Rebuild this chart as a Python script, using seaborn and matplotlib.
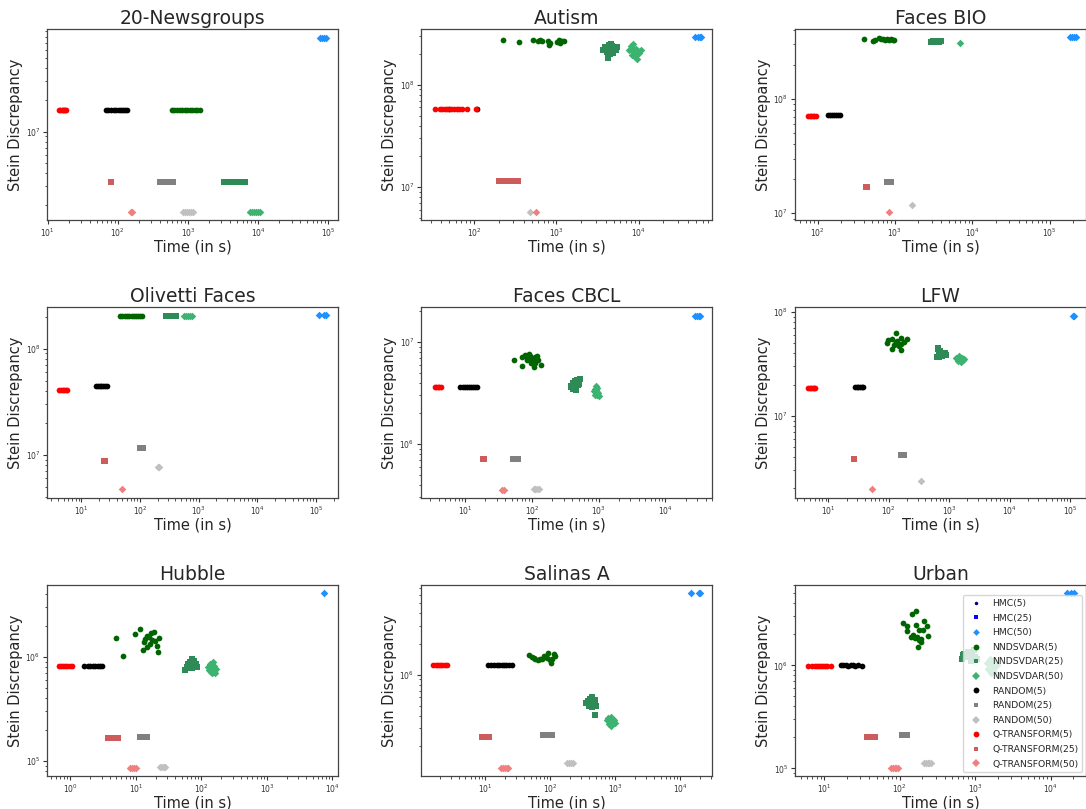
import matplotlib
matplotlib.use("Agg")
import matplotlib.pyplot as plt
from matplotlib.lines import Line2D
import seaborn as sns

# ---------------- series definitions ----------------
SERIES = ["HMC(5)", "HMC(25)", "HMC(50)",
          "NNDSVDAR(5)", "NNDSVDAR(25)", "NNDSVDAR(50)",
          "RANDOM(5)", "RANDOM(25)", "RANDOM(50)",
          "Q-TRANSFORM(5)", "Q-TRANSFORM(25)", "Q-TRANSFORM(50)"]
COLORS = ["navy", "blue", "dodgerblue",
          "darkgreen", "seagreen", "mediumseagreen",
          "black", "gray", "silver",
          "red", "indianred", "lightcoral"]
MARKERS = ["o", "s", "D"] * 4

TITLES = ["20-Newsgroups", "Autism", "Faces BIO",
          "Olivetti Faces", "Faces CBCL", "LFW",
          "Hubble", "Salinas A", "Urban"]

# ---------------- data: (times in s, stein discrepancy) ----------------
NEWSGROUPS = {
    "HMC(50)": ([76000, 82000, 88000, 94000], [7.8e7, 7.8e7, 7.8e7, 7.8e7]),
    "NNDSVDAR(5)": ([590, 640, 700, 760, 820, 900, 980, 1060, 1150, 1250, 1350, 1470], [1.6e7] * 12),
    "NNDSVDAR(25)": ([3250, 3500, 3800, 4100, 4500, 4900, 5400, 5900, 6400], [3.33e6] * 9),
    "NNDSVDAR(50)": ([7700, 8200, 8800, 9400, 10000, 10600], [1.72e6] * 6),
    "RANDOM(5)": ([67, 72, 80, 88, 95, 103, 110, 118, 126, 135], [1.6e7] * 10),
    "RANDOM(25)": ([400, 430, 470, 510, 560, 610], [3.33e6] * 6),
    "RANDOM(50)": ([860, 920, 980, 1050, 1120, 1170], [1.72e6] * 6),
    "Q-TRANSFORM(5)": ([14.5, 15.2, 15.8, 16.3, 16.9, 17.5, 18.0], [1.6e7] * 7),
    "Q-TRANSFORM(25)": ([79, 81], [3.33e6, 3.33e6]),
    "Q-TRANSFORM(50)": ([156, 160], [1.72e6, 1.72e6]),
}

AUTISM = {
    "HMC(50)": ([49000, 52000, 55000, 57000], [2.9e8] * 4),
    "NNDSVDAR(5)": ([221, 346, 512, 600, 630, 660, 790, 820, 830, 1020, 1060, 1100, 1170, 1250],
                    [2.71e8, 2.6e8, 2.75e8, 2.68e8, 2.72e8, 2.65e8, 2.7e8, 2.42e8, 2.55e8,
                     2.62e8, 2.72e8, 2.58e8, 2.68e8, 2.65e8]),
    "NNDSVDAR(25)": ([3700, 3900, 4100, 4300, 4400, 4500, 4600, 4700, 4800, 4900, 5100, 5300, 5500, 4200, 4600, 5000],
                     [2.2e8, 2.35e8, 2.1e8, 2.45e8, 2.25e8, 2.0e8, 2.3e8, 2.15e8, 2.4e8, 2.05e8,
                      2.3e8, 2.2e8, 2.35e8, 1.82e8, 2.5e8, 2.25e8]),
    "NNDSVDAR(50)": ([7600, 8000, 8300, 8600, 8800, 9000, 9200, 9400, 9600, 9800, 10200, 10600, 8500, 9100],
                     [2.2e8, 2.4e8, 1.95e8, 2.3e8, 2.1e8, 1.85e8, 2.25e8, 2.0e8, 1.78e8, 2.15e8,
                      2.05e8, 2.2e8, 2.5e8, 1.9e8]),
    "RANDOM(5)": ([50, 108], [5.78e7, 5.78e7]),
    "RANDOM(25)": ([215, 235], [1.15e7, 1.15e7]),
    "RANDOM(50)": ([480], [5.78e6]),
    "Q-TRANSFORM(5)": ([33, 38, 41, 44, 47, 53, 57, 62, 66, 72, 82, 104], [5.78e7] * 12),
    "Q-TRANSFORM(25)": ([200, 215, 230, 245, 260, 280, 300, 320, 345], [1.15e7] * 9),
    "Q-TRANSFORM(50)": ([570], [5.78e6]),
}

FACES_BIO = {
    "HMC(50)": ([182000, 195000, 208000, 220000], [3.47e8] * 4),
    "NNDSVDAR(5)": ([393, 520, 560, 620, 660, 700, 740, 780, 830, 880, 940, 980],
                    [3.36e8, 3.2e8, 3.3e8, 3.4e8, 3.32e8, 3.38e8, 3.25e8, 3.35e8, 3.3e8, 3.33e8, 3.31e8, 3.3e8]),
    "NNDSVDAR(25)": ([2950, 3100, 3300, 3500, 3700, 3950], [3.15e8, 3.2e8, 3.18e8, 3.22e8, 3.16e8, 3.2e8]),
    "NNDSVDAR(50)": ([7000], [3.12e8]),
    "RANDOM(5)": ([136, 145, 155, 165, 175, 185, 195], [7.2e7, 7.25e7, 7.2e7, 7.3e7, 7.2e7, 7.25e7, 7.2e7]),
    "RANDOM(25)": ([790, 830, 870, 890], [1.86e7] * 4),
    "RANDOM(50)": ([1660], [1.18e7]),
    "Q-TRANSFORM(5)": ([75, 79, 83, 87, 91, 95], [7.14e7] * 6),
    "Q-TRANSFORM(25)": ([420, 430], [1.71e7, 1.71e7]),
    "Q-TRANSFORM(50)": ([850], [1.03e7]),
}

OLIVETTI = {
    "HMC(50)": ([112000, 135000, 148000], [2.06e8] * 3),
    "NNDSVDAR(5)": ([45, 50, 55, 60, 66, 72, 78, 85, 92, 100, 107], [2.05e8] * 11),
    "NNDSVDAR(25)": ([280, 300, 325, 350, 380, 410], [2.05e8] * 6),
    "NNDSVDAR(50)": ([560, 610, 660, 710, 780], [2.05e8] * 5),
    "RANDOM(5)": ([17.5, 19, 20.5, 22, 23.5, 25, 27], [4.41e7] * 7),
    "RANDOM(25)": ([98, 106, 114], [1.16e7] * 3),
    "RANDOM(50)": ([200, 212], [7.65e6, 7.65e6]),
    "Q-TRANSFORM(5)": ([4.2, 4.5, 4.8, 5.1, 5.4, 5.7], [4.1e7] * 6),
    "Q-TRANSFORM(25)": ([24, 25.5], [8.78e6, 8.78e6]),
    "Q-TRANSFORM(50)": ([50], [4.74e6]),
}

FACES_CBCL = {
    "HMC(50)": ([27500, 30000, 32000, 33500], [1.81e7] * 4),
    "NNDSVDAR(5)": ([53.1, 70.8, 77.6, 89.1, 94.4, 100, 106, 110, 119, 122, 112, 106, 72.4, 138, 89.1, 84.1, 97.7, 81.3],
                    [6.61e6, 7.08e6, 7.46e6, 7.63e6, 7.23e6, 6.8e6, 6.46e6, 7.13e6, 7.35e6, 6.71e6,
                     6.22e6, 5.69e6, 5.77e6, 5.96e6, 6.92e6, 6.71e6, 6.22e6, 7.23e6]),
    "NNDSVDAR(25)": ([390, 410, 420, 440, 450, 460, 470, 480, 490, 500, 510, 530, 455, 420, 380],
                     [3.6e6, 3.9e6, 3.5e6, 3.8e6, 4.1e6, 3.65e6, 3.95e6, 4.25e6, 3.75e6, 4.1e6,
                      3.85e6, 4.3e6, 3.4e6, 4.0e6, 3.7e6]),
    "NNDSVDAR(50)": ([850, 880, 900, 920, 940, 960, 990, 1020, 870, 910, 950],
                     [3.3e6, 3.5e6, 3.1e6, 3.7e6, 3.25e6, 3.0e6, 3.15e6, 2.95e6, 3.05e6, 3.4e6, 3.55e6]),
    "RANDOM(5)": ([8.5, 9.2, 10, 10.8, 11.6, 12.4, 13.3, 14.2, 15], [3.6e6] * 9),
    "RANDOM(25)": ([53, 57, 61], [7.18e5] * 3),
    "RANDOM(50)": ([106, 113, 120, 126], [3.6e5] * 4),
    "Q-TRANSFORM(5)": ([3.5, 3.7, 3.9, 4.1, 4.35], [3.6e6] * 5),
    "Q-TRANSFORM(25)": ([18.5, 19.2], [7.18e5, 7.18e5]),
    "Q-TRANSFORM(50)": ([36, 38], [3.57e5, 3.57e5]),
}

LFW = {
    "HMC(50)": ([110000, 115000], [9.2e7, 9.2e7]),
    "NNDSVDAR(5)": ([133, 97, 115, 139, 157, 198, 94.6, 122, 157, 179, 115, 157, 148, 130],
                    [6.27e7, 5.4e7, 5.49e7, 5.21e7, 5.61e7, 5.53e7, 5.02e7, 4.84e7, 4.95e7, 5.1e7,
                     4.43e7, 4.33e7, 4.67e7, 5.1e7]),
    "NNDSVDAR(25)": ([620, 650, 670, 680, 700, 720, 750, 780, 820, 860, 900, 690, 660],
                     [3.7e7, 4.4e7, 4.1e7, 3.8e7, 4.2e7, 3.9e7, 3.75e7, 4.0e7, 3.85e7, 4.05e7, 3.9e7, 3.65e7, 4.5e7]),
    "NNDSVDAR(50)": ([1320, 1400, 1450, 1500, 1550, 1600, 1700, 1750, 1480],
                     [3.6e7, 3.4e7, 3.7e7, 3.5e7, 3.3e7, 3.6e7, 3.45e7, 3.55e7, 3.8e7]),
    "RANDOM(5)": ([27.5, 29.5, 31.5, 33.5, 35.5, 38], [1.89e7] * 6),
    "RANDOM(25)": ([160, 170, 178], [4.2e6] * 3),
    "RANDOM(50)": ([337], [2.34e6]),
    "Q-TRANSFORM(5)": ([4.6, 4.9, 5.2, 5.5, 5.8, 6.1], [1.85e7] * 6),
    "Q-TRANSFORM(25)": ([26.6], [3.82e6]),
    "Q-TRANSFORM(50)": ([53.5], [1.96e6]),
}

HUBBLE = {
    "HMC(50)": ([7380], [4.1e6]),
    "NNDSVDAR(5)": ([5.02, 6.34, 9.55, 11.6, 12.8, 13.1, 13.9, 14.7, 15.6, 16.2, 16.9, 17.5, 18.6, 19.7, 20.9, 21.4, 22.9, 14.7],
                    [1.53e6, 1.03e6, 1.65e6, 1.87e6, 1.18e6, 1.39e6, 1.5e6, 1.61e6, 1.56e6, 1.34e6,
                     1.7e6, 1.47e6, 1.74e6, 1.44e6, 1.29e6, 1.13e6, 1.53e6, 1.25e6]),
    "NNDSVDAR(25)": ([56, 60, 63, 66, 68, 70, 72, 74, 76, 78, 82, 85, 71],
                     [7.5e5, 8.0e5, 8.6e5, 7.9e5, 9.0e5, 8.3e5, 9.5e5, 8.7e5, 8.1e5, 9.2e5, 8.5e5, 8.0e5, 7.9e5]),
    "NNDSVDAR(50)": ([128, 132, 136, 140, 144, 148, 152, 156, 160, 168, 145],
                     [8.0e5, 7.5e5, 8.6e5, 7.2e5, 7.8e5, 8.9e5, 7.4e5, 8.2e5, 7.1e5, 7.6e5, 7.0e5]),
    "RANDOM(5)": ([1.6, 1.85, 2.0, 2.2, 2.4, 2.6, 2.8, 3.0], [8.2e5] * 8),
    "RANDOM(25)": ([11.6, 12.6, 13.6, 14.7], [1.69e5] * 4),
    "RANDOM(50)": ([23, 25, 27, 28], [8.83e4] * 4),
    "Q-TRANSFORM(5)": ([0.66, 0.72, 0.78, 0.84, 0.9, 0.97, 1.05], [8.2e5] * 7),
    "Q-TRANSFORM(25)": ([3.8, 4.2, 4.6, 5.0, 5.4], [1.68e5] * 5),
    "Q-TRANSFORM(50)": ([8.2, 8.8, 9.4, 10.1], [8.63e4] * 4),
}

SALINAS_A = {
    "HMC(50)": ([14800, 19000, 20000], [6.2e6] * 3),
    "NNDSVDAR(5)": ([47.5, 52.2, 57.4, 64.6, 74.4, 81.8, 88.9, 94.2, 100, 106, 113, 117, 102, 70.2, 58.9],
                    [1.54e6, 1.49e6, 1.46e6, 1.4e6, 1.43e6, 1.53e6, 1.46e6, 1.62e6, 1.38e6, 1.43e6,
                     1.6e6, 1.51e6, 1.3e6, 1.42e6, 1.43e6]),
    "NNDSVDAR(25)": ([360, 380, 395, 405, 415, 425, 435, 445, 455, 470, 490, 510, 480, 430],
                     [5.3e5, 5.6e5, 4.9e5, 5.8e5, 5.2e5, 5.5e5, 4.8e5, 6.0e5, 5.1e5, 5.4e5, 5.7e5, 4.9e5, 4.05e5, 5.0e5]),
    "NNDSVDAR(50)": ([745, 770, 800, 820, 840, 860, 880, 900, 930, 960, 1000, 850],
                     [3.6e5, 3.8e5, 3.3e5, 3.7e5, 3.45e5, 3.15e5, 3.6e5, 3.35e5, 3.5e5, 3.65e5, 3.4e5, 3.9e5]),
    "RANDOM(5)": ([11.2, 12.5, 13.8, 15, 16.5, 18, 19.5, 21, 23, 25.7], [1.23e6] * 10),
    "RANDOM(25)": ([79, 86, 93, 100, 108], [2.6e5] * 5),
    "RANDOM(50)": ([180, 195, 210, 224], [1.37e5] * 4),
    "Q-TRANSFORM(5)": ([1.6, 1.75, 1.9, 2.05, 2.2, 2.4, 2.57], [1.23e6] * 7),
    "Q-TRANSFORM(25)": ([8.9, 9.6, 10.3, 11.0, 11.5], [2.48e5] * 5),
    "Q-TRANSFORM(50)": ([17.6, 19, 20.5, 22, 22.9], [1.24e5] * 5),
}

URBAN = {
    "HMC(50)": ([16600, 18500, 20300], [5.0e6] * 3),
    "NNDSVDAR(5)": ([111, 124, 124, 148, 167, 163, 181, 140, 151, 160, 168, 181, 190, 177, 210, 233, 204, 240, 190],
                    [2.59e6, 2.4e6, 2.15e6, 3.16e6, 3.36e6, 2.49e6, 2.21e6, 1.88e6, 1.95e6, 1.85e6,
                     1.88e6, 1.75e6, 1.81e6, 1.5e6, 2.68e6, 2.42e6, 2.18e6, 1.91e6, 1.68e6]),
    "NNDSVDAR(25)": ([680, 720, 760, 800, 840, 880, 920, 960, 1000, 1060, 700],
                     [1.15e6, 1.3e6, 1.2e6, 1.35e6, 1.25e6, 1.1e6, 1.3e6, 1.4e6, 1.2e6, 1.15e6, 1.25e6]),
    "NNDSVDAR(50)": ([1450, 1500, 1550, 1600, 1650, 1700, 1750, 1800, 1900, 1950, 1580],
                     [1.05e6, 9.2e5, 1.1e6, 8.5e5, 1.0e6, 8.8e5, 1.12e6, 9.5e5, 8.3e5, 1.0e6, 1.15e6]),
    "RANDOM(5)": ([16.6, 18, 19.5, 21, 22.5, 24, 26, 28, 32], [1.0e6, 1.01e6, 1.0e6, 9.9e5, 1.0e6, 1.01e6, 9.9e5, 1.0e6, 9.9e5]),
    "RANDOM(25)": ([107, 113, 119, 124], [2.13e5] * 4),
    "RANDOM(50)": ([210, 222, 235, 247, 257], [1.13e5] * 5),
    "Q-TRANSFORM(5)": ([6.14, 7.0, 7.5, 8.0, 8.6, 9.0, 9.6, 10.2, 11.1, 12.5], [9.85e5] * 10),
    "Q-TRANSFORM(25)": ([36.7, 39, 41.5, 44, 46, 48], [2.02e5] * 6),
    "Q-TRANSFORM(50)": ([76, 81, 86, 91, 95.5], [1.01e5] * 5),
}

DATASETS = [NEWSGROUPS, AUTISM, FACES_BIO, OLIVETTI, FACES_CBCL, LFW, HUBBLE, SALINAS_A, URBAN]

# axis ranges
XLIMS = [(9.8, 1.38e5), (22.6, 7.8e4), (51, 2.96e5),
         (2.6, 2.37e5), (2.19, 5.0e4), (2.8, 1.84e5),
         (0.44, 1.22e4), (1.04, 3.07e4), (4.13, 2.93e4)]
YLIMS = [(1.44e6, 9.47e7), (4.8e6, 3.5e8), (8.74e6, 4.1e8),
         (3.9e6, 2.47e8), (2.96e5, 2.2e7), (1.61e6, 1.12e8),
         (7.18e4, 4.93e6), (1.03e5, 7.48e6), (8.43e4, 6.03e6)]

# ---------------- drawing ----------------
sns.set_style("white")
plt.rcParams["font.family"] = ["DejaVu Sans"]
plt.rcParams["axes.edgecolor"] = "#444444"
plt.rcParams["xtick.color"] = "#333333"
plt.rcParams["ytick.color"] = "#333333"

fig = plt.figure(figsize=(10.86, 8.09), dpi=100)

lefts = [0.0433, 0.3877, 0.7320]
bottoms = [0.7281, 0.3844, 0.0408]
W, H = 0.2680, 0.2361

SIZES = {"o": 17, "s": 13, "D": 15}

for i, (data, title) in enumerate(zip(DATASETS, TITLES)):
    r, c = divmod(i, 3)
    ax = fig.add_axes([lefts[c], bottoms[r], W, H])
    ax.set_xscale("log")
    ax.set_yscale("log")
    for name, col, mk in zip(SERIES, COLORS, MARKERS):
        if name not in data:
            continue
        t, v = data[name]
        sns.scatterplot(x=t, y=v, ax=ax, color=col, marker=mk, s=SIZES[mk],
                        linewidth=0, legend=False, zorder=3)
    ax.set_xlim(*XLIMS[i])
    ax.set_ylim(*YLIMS[i])
    ax.set_title(title, fontsize=13.5, pad=3.5)
    ax.set_xlabel("Time (in s)", fontsize=10.5, labelpad=0.5)
    ax.set_ylabel("Stein Discrepancy", fontsize=10.5, labelpad=1.5)
    ax.tick_params(axis="both", which="both", labelsize=5.5, direction="out",
                   left=True, bottom=True, pad=2)
    ax.tick_params(which="major", length=2.8, width=0.8)
    ax.tick_params(which="minor", length=1.8, width=0.6)
    for sp in ax.spines.values():
        sp.set_linewidth(0.9)

    if i == 8:
        leg_sizes = [2.5, 2.5, 3.4, 4.2, 3.5, 4.2, 4.2, 3.5, 4.2, 4.2, 3.5, 4.2]
        handles = [Line2D([], [], linestyle="none", marker=mk, color=col,
                          markersize=ms, markeredgewidth=0)
                   for col, mk, ms in zip(COLORS, MARKERS, leg_sizes)]
        ax.legend(handles, SERIES, loc="lower right", fontsize=6.7,
                  frameon=True, framealpha=0.8, edgecolor="#cccccc",
                  fancybox=True, borderaxespad=0.4, labelspacing=0.6)

fig.savefig("out.png", dpi=100)
